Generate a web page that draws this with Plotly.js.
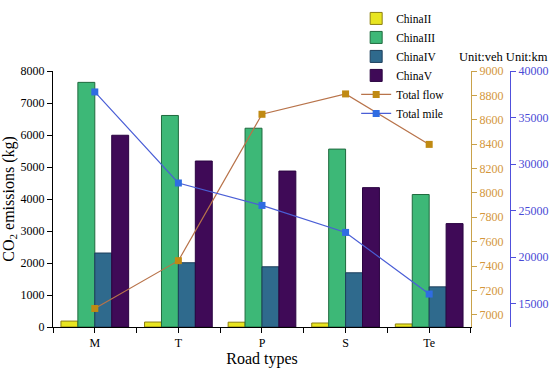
<!DOCTYPE html>
<html>
<head>
<meta charset="utf-8">
<script src="https://cdn.plot.ly/plotly-3.0.1.min.js"></script>
<style>html,body{margin:0;padding:0;background:#fff}#chart{width:550px;height:369px}</style>
</head>
<body>
<div id="chart"></div>
<script>
const categories = ["M", "T", "P", "S", "Te"];
const chinaII = [185, 155, 150, 125, 95];
const chinaIII = [7645, 6610, 6212, 5560, 4140];
const chinaIV = [2312, 2008, 1882, 1694, 1255];
const chinaV = [5992, 5187, 4873, 4355, 3231];
const totalFlow = [7052, 7444, 8645, 8812, 8398];
const totalMile = [37750, 27970, 25560, 22660, 16040];
const idx = categories.map((c, i) => i);

const serif = "Liberation Serif, Times New Roman, serif";
const barDefs = [
  {name: "ChinaII", y: chinaII, fill: "#e8e520", line: "#8c7f10"},
  {name: "ChinaIII", y: chinaIII, fill: "#3db877", line: "#1f6a3e"},
  {name: "ChinaIV", y: chinaIV, fill: "#2f6a8d", line: "#1d3f5c"},
  {name: "ChinaV", y: chinaV, fill: "#3f0a57", line: "#2a0340"}
];
const traces = barDefs.map(b => ({
  type: "bar", name: b.name, x: idx, y: b.y,
  marker: {color: b.fill, line: {color: b.line, width: 1}},
  xaxis: "x", yaxis: "y"
}));
traces.push({
  type: "scatter", mode: "lines+markers", name: "Total flow", x: idx, y: totalFlow,
  line: {color: "#b8734a", width: 1.2},
  marker: {symbol: "square", size: 7, color: "#c08a12"},
  xaxis: "x", yaxis: "y2"
});
traces.push({
  type: "scatter", mode: "lines+markers", name: "Total mile", x: idx, y: totalMile,
  line: {color: "#4a5ed6", width: 1.2},
  marker: {symbol: "square", size: 7, color: "#2f6ce2"},
  xaxis: "x", yaxis: "y3"
});

const layout = {
  width: 550, height: 369,
  margin: {l: 53, r: 0, t: 71, b: 42},
  paper_bgcolor: "#fff", plot_bgcolor: "#fff",
  font: {family: serif, size: 12, color: "#000"},
  barmode: "group", bargap: 0.19, bargroupgap: 0,
  showlegend: true,
  legend: {x: 0.61, y: 1.262, xanchor: "left", yanchor: "top", bgcolor: "rgba(0,0,0,0)",
           font: {family: serif, size: 11.5}, tracegroupgap: 0, itemwidth: 30},
  xaxis: {
    domain: [0, 0.841], range: [-0.5, 4.5], tickmode: "array", tickvals: idx, ticktext: categories,
    showgrid: false, zeroline: false, showline: true, linecolor: "#000", linewidth: 1,
    ticks: "outside", ticklen: 5, tickcolor: "#000",
    minor: {tick0: 0.5, dtick: 1, ticks: "outside", ticklen: 5, tickcolor: "#000", showgrid: false},
    title: {text: "Road types", font: {family: serif, size: 16}, standoff: 3},
    tickfont: {family: serif, size: 12}
  },
  yaxis: {
    range: [0, 8000], dtick: 1000, showgrid: false, zeroline: false,
    showline: true, linecolor: "#000", linewidth: 1, ticks: "outside", ticklen: 5, tickcolor: "#000",
    title: {text: "CO<sub>2</sub> emissions (kg)", font: {family: serif, size: 16}, standoff: 6},
    tickfont: {family: serif, size: 12}
  },
  yaxis2: {
    overlaying: "y", side: "right", anchor: "x", range: [6900, 9000], dtick: 200,
    showgrid: false, zeroline: false, showline: true, linecolor: "#c9a24a", linewidth: 1.2,
    ticks: "outside", ticklen: 5, tickcolor: "#c9a24a",
    tickfont: {family: serif, size: 12, color: "#d4963c"}
  },
  yaxis3: {
    overlaying: "y", side: "right", anchor: "free", position: 0.9195, range: [12500, 40000], dtick: 5000,
    tickformat: "d",
    showgrid: false, zeroline: false, showline: true, linecolor: "#5050dc", linewidth: 1.2,
    ticks: "outside", ticklen: 5, tickcolor: "#5050dc",
    tickfont: {family: serif, size: 12, color: "#4a4ad6"}
  },
  annotations: [{
    text: "Unit:veh Unit:km", xref: "paper", yref: "paper", x: 1.0, y: 1.055,
    xanchor: "right", yanchor: "middle", showarrow: false,
    font: {family: serif, size: 12.5, color: "#000"}
  }]
};
Plotly.newPlot("chart", traces, layout, {displayModeBar: false, staticPlot: true});
</script>
</body>
</html>
